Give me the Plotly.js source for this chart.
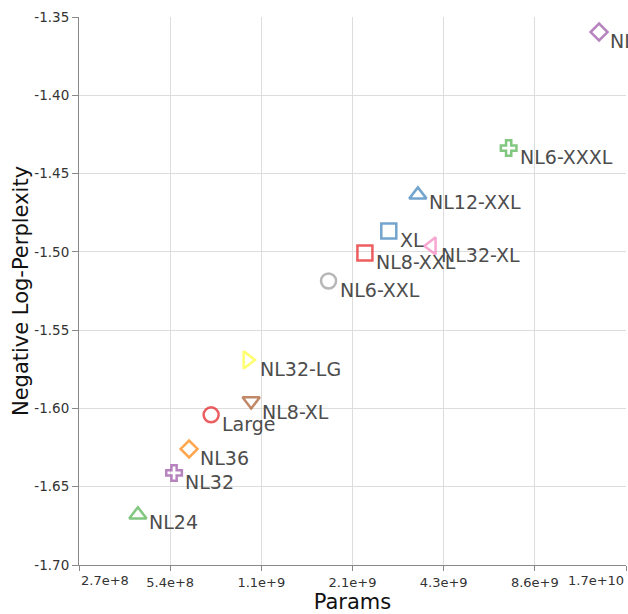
<!DOCTYPE html>
<html><head><meta charset="utf-8">
<script src="https://cdn.plot.ly/plotly-3.0.1.min.js"></script>
<style>html,body{margin:0;padding:0;background:#fff;overflow:hidden}#chart{width:628px;height:614px}</style>
</head><body><div id="chart"></div>
<script>
// ---- data ----
const models = ['Large','NL12-XXL','NL24','NL32','NL36','NL32-LG','NL8-XL','NL32-XL','NL6-XXL','NL8-XXL','XL','NL6-XXXL','NL12-XXXL'];
const params = [7.33e8, 3.53e9, 4.2e8, 5.53e8, 6.2e8, 9.8e8, 9.94e8, 3.87e9, 1.79e9, 2.36e9, 2.83e9, 7.04e9, 1.40e10];
const negLogPerplexity = [-1.6041, -1.4624, -1.6667, -1.6412, -1.6259, -1.5690, -1.5965, -1.4962, -1.5186, -1.5007, -1.4867, -1.4337, -1.3596];
const shapes = ['circle','triangle-up','triangle-up','cross','diamond','triangle-right','triangle-down','triangle-left','circle','square','square','cross','diamond'];
const colors = ['#e41a1c','#377eb8','#4daf4a','#984ea3','#ff7f00','#ffff33','#a65628','#f781bf','#999999','#e41a1c','#377eb8','#4daf4a','#984ea3'];
const xTickValues = [2**28, 2**29, 2**30, 2**31, 2**32, 2**33, 2**34];
const xTickLabels = ['2.7e+8','5.4e+8','1.1e+9','2.1e+9','4.3e+9','8.6e+9','1.7e+10'];
const yTickValues = [-1.70, -1.65, -1.60, -1.55, -1.50, -1.45, -1.40, -1.35];

// ---- styles ----
const FONT = 'DejaVu Sans, Verdana, sans-serif';
const triSize = 15, triOff = 0.25 * triSize / 2;
// triangles: base triangle-up shifted so that its bounding box is centred on the point, then rotated
const shapeStyle = {
  'circle':        {symbol: 'circle-open',      size: 15, angle: 0,   standoff: 0},
  'square':        {symbol: 'square-open',      size: 15, angle: 0,   standoff: 0},
  'diamond':       {symbol: 'diamond-open',     size: 13, angle: 0,   standoff: 0},
  'cross':         {symbol: 'cross-open',       size: 13, angle: 0,   standoff: 0},
  'triangle-up':   {symbol: 'triangle-up-open', size: triSize, angle: 0,   standoff: triOff},
  'triangle-down': {symbol: 'triangle-up-open', size: triSize, angle: 180, standoff: triOff},
  'triangle-right':{symbol: 'triangle-up-open', size: triSize, angle: 90,  standoff: triOff},
  'triangle-left': {symbol: 'triangle-up-open', size: triSize, angle: 270, standoff: triOff}
};

const trace = {
  type: 'scatter', mode: 'markers',
  x: params, y: negLogPerplexity, text: models,
  cliponaxis: false,
  hoverinfo: 'text',
  marker: {
    symbol: shapes.map(s => shapeStyle[s].symbol),
    size: shapes.map(s => shapeStyle[s].size),
    angle: shapes.map(s => shapeStyle[s].angle),
    standoff: shapes.map(s => shapeStyle[s].standoff),
    color: colors,
    opacity: 0.7,
    line: {width: 2.5, color: colors}
  },
  showlegend: false
};

const lo = Math.log10(xTickValues[0]) - 1e-6;
const hi = Math.log10(xTickValues[xTickValues.length - 1]) + 1e-6;

const annotations = models.map((m, i) => ({
  x: Math.log10(params[i]), y: negLogPerplexity[i], xref: 'x', yref: 'y',
  text: m, showarrow: false, xanchor: 'left', yanchor: 'middle',
  xshift: 9, yshift: -9,
  font: {family: FONT, size: 19, color: '#4d4d4d'}
}));
// edge tick labels flush with plot edges
annotations.push({
  x: Math.log10(xTickValues[0]), y: 0, xref: 'x', yref: 'paper',
  text: xTickLabels[0], showarrow: false, xanchor: 'left', yanchor: 'top', yshift: -6,
  font: {family: FONT, size: 13, color: '#333'}
});
annotations.push({
  x: Math.log10(xTickValues[xTickValues.length - 1]), y: 0, xref: 'x', yref: 'paper',
  text: xTickLabels[xTickLabels.length - 1], showarrow: false, xanchor: 'right', yanchor: 'top', yshift: -6,
  font: {family: FONT, size: 13, color: '#333'}
});

const layout = {
  width: 628, height: 614,
  margin: {l: 79, r: 2, t: 17, b: 49},
  paper_bgcolor: '#fff', plot_bgcolor: '#fff',
  font: {family: FONT, color: '#333'},
  xaxis: {
    type: 'log', range: [lo, hi],
    tickmode: 'array', tickvals: xTickValues,
    ticktext: xTickLabels.map((t, i) => (i === 0 || i === xTickLabels.length - 1) ? '' : t),
    ticks: 'outside', ticklen: 5, tickcolor: '#888', tickwidth: 1,
    showline: true, linecolor: '#888', linewidth: 1,
    showgrid: true, gridcolor: '#ddd', gridwidth: 1,
    zeroline: false,
    tickfont: {family: FONT, size: 13, color: '#333'},
    title: {text: 'Params', font: {family: FONT, size: 21, color: '#111'}, standoff: 6},
    automargin: false
  },
  yaxis: {
    range: [-1.70, -1.35],
    tickmode: 'array', tickvals: yTickValues,
    ticktext: yTickValues.map(v => v.toFixed(2)),
    ticks: 'outside', ticklen: 6, tickcolor: '#888', tickwidth: 1,
    showline: true, linecolor: '#888', linewidth: 1,
    showgrid: true, gridcolor: '#ddd', gridwidth: 1,
    zeroline: false,
    tickfont: {family: FONT, size: 13.5, color: '#333'},
    title: {text: 'Negative Log-Perplexity', font: {family: FONT, size: 21, color: '#111'}, standoff: 0},
    automargin: false
  },
  annotations: annotations
};

Plotly.newPlot('chart', [trace], layout, {displayModeBar: false, staticPlot: true});
</script>
</body></html>
